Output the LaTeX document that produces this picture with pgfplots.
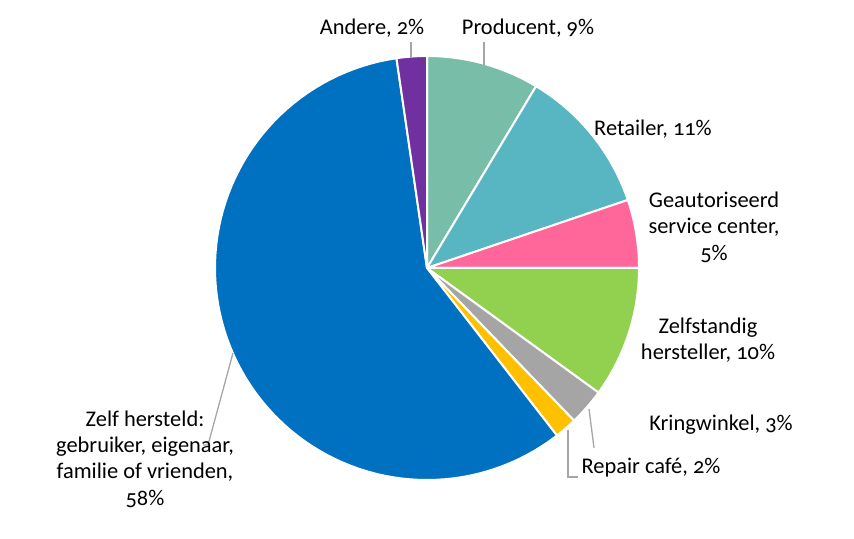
\documentclass[border=0pt]{standalone}
\usepackage{pgfplots}
\pgfplotsset{compat=1.18}
\usepackage{fontspec}
\setmainfont[Numbers=OldStyle]{Carlito}
\definecolor{cProd}{HTML}{77BDA8}
\definecolor{cRet}{HTML}{57B6C1}
\definecolor{cServ}{HTML}{FF6699}
\definecolor{cZelfst}{HTML}{92D050}
\definecolor{cKring}{HTML}{A5A5A5}
\definecolor{cRepair}{HTML}{FFC000}
\definecolor{cZelf}{HTML}{0070C0}
\definecolor{cAndere}{HTML}{7030A0}
\definecolor{lead}{HTML}{A6A6A6}
% shares in percent, clockwise from 12 o'clock
% Producent 8.6, Retailer 11.2, Service center 5.2, Zelfstandig 10.0,
% Kringwinkel 2.8, Repair cafe 1.7, Zelf hersteld 58.2, Andere 2.3
\def\cx{427}\def\cy{268}\def\R{212}
\newcommand\slice[3]{%
  \addplot[fill=#3, draw=white, line width=2bp, line join=round,
    domain=#1*3.6:#2*3.6, samples=90, variable=\t]
    ({\cx+\R*sin(\t)}, {\cy-\R*cos(\t)}) -- (axis cs:\cx,\cy) -- cycle;}
\tikzset{lbl/.style={font=\fontsize{22.5}{26.5}\selectfont, align=center, text=black, inner sep=0pt}}
\begin{document}
\begin{tikzpicture}
\begin{axis}[
  x=1bp, y=1bp, xmin=0, xmax=854, ymin=0, ymax=539, y dir=reverse,
  scale only axis, clip=false, axis line style={draw=none}, ticks=none,
]
\slice{0}{8.6}{cProd}
\slice{8.6}{19.8}{cRet}
\slice{19.8}{25.0}{cServ}
\slice{25.0}{35.0}{cZelfst}
\slice{35.0}{37.8}{cKring}
\slice{37.8}{39.5}{cRepair}
\slice{39.5}{97.7}{cZelf}
\slice{97.7}{100}{cAndere}
% leader lines
\draw[lead, line width=1.3bp] (axis cs:411,58) -- (axis cs:411,42);
\draw[lead, line width=1.3bp] (axis cs:484,65) -- (axis cs:484,42);
\draw[lead, line width=1.3bp] (axis cs:589,409) -- (axis cs:594,448);
\draw[lead, line width=1.3bp] (axis cs:568,430) -- (axis cs:568,477) -- (axis cs:578,477);
\draw[lead, line width=1.3bp] (axis cs:233,353) -- (axis cs:208,445) -- (axis cs:203,445);
% labels
\node[lbl] at (axis cs:372,28) {Andere, 2\%};
\node[lbl] at (axis cs:528,28) {Producent, 9\%};
\node[lbl] at (axis cs:653,129) {Retailer, 11\%};
\node[lbl] at (axis cs:714,227) {Geautoriseerd\\service center,\\5\%};
\node[lbl] at (axis cs:708,340) {Zelfstandig\\hersteller, 10\%};
\node[lbl] at (axis cs:721,425) {Kringwinkel, 3\%};
\node[lbl] at (axis cs:651,468) {Repair café, 2\%};
\node[lbl] at (axis cs:145,459) {Zelf hersteld:\\gebruiker, eigenaar,\\familie of vrienden,\\58\%};
\end{axis}
\end{tikzpicture}
\end{document}
